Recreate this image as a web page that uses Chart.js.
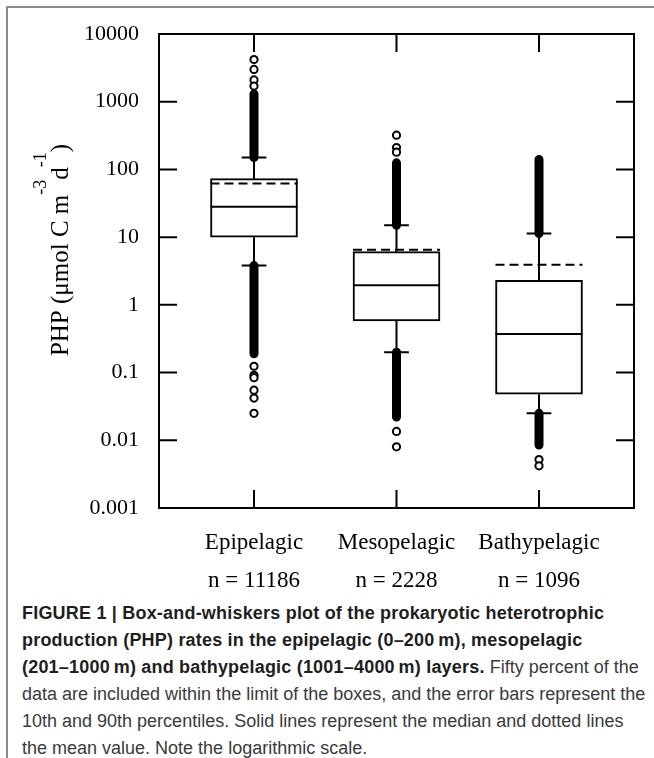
<!DOCTYPE html>
<html>
<head>
<meta charset="utf-8">
<script src="https://cdn.jsdelivr.net/npm/chart.js@4.4.1/dist/chart.umd.min.js"></script>
<style>
  html, body { margin: 0; padding: 0; background: #fff; }
  body { width: 654px; height: 758px; position: relative; overflow: hidden; }
  #frame { position: absolute; left: 6px; top: 6px; width: 660px; height: 780px;
           border-top: 2px solid #8c8c8c; border-left: 2px solid #8c8c8c; }
  #plot { position: absolute; left: 0; top: 0; }
  #caption { position: absolute; left: 22px; top: 600px; width: 630px;
             font-family: "Liberation Sans", Arial, sans-serif; font-size: 18px;
             line-height: 27px; color: #3a3a3a; white-space: nowrap; }
  #caption b { color: #1e1e1e; letter-spacing: 0.2px; }
</style>
</head>
<body>
<div id="frame"></div>
<canvas id="plot" width="654" height="600"></canvas>
<div id="caption">
  <b>FIGURE 1 | Box-and-whiskers plot of the prokaryotic heterotrophic</b><br>
  <b>production (PHP) rates in the epipelagic (0–200&#8201;m), mesopelagic</b><br>
  <b>(201–1000&#8201;m) and bathypelagic (1001–4000&#8201;m) layers.</b> Fifty percent of the<br>
  data are included within the limit of the boxes, and the error bars represent the<br>
  10th and 90th percentiles. Solid lines represent the median and dotted lines<br>
  the mean value. Note the logarithmic scale.
</div>
<script>
// ===== data
const categories = ['Epipelagic', 'Mesopelagic', 'Bathypelagic'];
const sampleSizes = ['n = 11186', 'n = 2228', 'n = 1096'];
const xPos = [1, 2.5, 4];

const p10 = [3.8, 0.2, 0.025];
const q1 = [10, 0.58, 0.048];
const median = [28, 1.95, 0.37];
const q3 = [73, 6.1, 2.3];
const p90 = [150, 15, 11.3];
const mean = [62, 6.5, 3.9];

// runs of overlapping outlier circles (drawn as one solid band)
const denseHigh = [[150, 1300], [15, 125], [11.3, 140]];
const denseLow = [[0.19, 3.8], [0.022, 0.2], [0.0085, 0.025]];

// single outlier circles
const outliersEpi = [4200, 3000, 2100, 1700, 0.124, 0.091, 0.084, 0.055, 0.042, 0.025];
const outliersMeso = [320, 210, 180, 0.0135, 0.008];
const outliersBathy = [0.0052, 0.0042];

const yTicks = [0.001, 0.01, 0.1, 1, 10, 100, 1000, 10000];
const yTickLabels = ['0.001', '0.01', '0.1', '1', '10', '100', '1000', '10000'];

// ===== helpers
const boxHalf = 0.458;   // half box width in x units
const capHalf = 0.13;    // half whisker cap width

function segments(pairs) {
  const out = [];
  pairs.forEach(p => {
    out.push(p[0], p[1], { x: p[1].x, y: null });
  });
  return out;
}

function hLines(vals, half) {
  return segments(xPos.map((x, i) => [{ x: x - half, y: vals[i] }, { x: x + half, y: vals[i] }]));
}

function vLines(from, to) {
  return segments(xPos.map((x, i) => [{ x: x, y: from[i] }, { x: x, y: to[i] }]));
}

const outlierPts = [];
outliersEpi.forEach(v => outlierPts.push({ x: xPos[0], y: v }));
outliersMeso.forEach(v => outlierPts.push({ x: xPos[1], y: v }));
outliersBathy.forEach(v => outlierPts.push({ x: xPos[2], y: v }));

const lineBase = { type: 'line', showLine: true, pointRadius: 0, borderColor: '#000', borderWidth: 2, spanGaps: false, fill: false };

const serif = '"Liberation Serif", "Times New Roman", serif';

// frame, inward ticks and y title
const framePlugin = {
  id: 'framePlugin',
  afterDraw(chart) {
    const ctx = chart.ctx;
    const a = chart.chartArea;
    const ys = chart.scales.y;
    const xs = chart.scales.x;
    const tl = 18;
    ctx.save();
    ctx.strokeStyle = '#000';
    ctx.lineWidth = 2;
    ctx.strokeRect(a.left, a.top, a.right - a.left, a.bottom - a.top);
    ctx.beginPath();
    yTicks.forEach(v => {
      const y = ys.getPixelForValue(v);
      ctx.moveTo(a.left, y); ctx.lineTo(a.left + tl, y);
      ctx.moveTo(a.right, y); ctx.lineTo(a.right - tl, y);
    });
    xPos.forEach(v => {
      const x = xs.getPixelForValue(v);
      ctx.moveTo(x, a.top); ctx.lineTo(x, a.top + tl);
      ctx.moveTo(x, a.bottom); ctx.lineTo(x, a.bottom - tl);
    });
    ctx.stroke();

    // y axis title with superscripts
    const parts = [
      { t: 'PHP (\u03bcmol C m', sup: false },
      { t: '-3', sup: true },
      { t: 'd', sup: false },
      { t: '-1', sup: true },
      { t: ')', sup: false }
    ];
    const baseFont = '25px ' + serif;
    const supFont = '18px ' + serif;
    let total = 0;
    parts.forEach(p => {
      ctx.font = p.sup ? supFont : baseFont;
      p.w = ctx.measureText(p.t).width;
      total += p.w;
    });
    ctx.translate(68, 250);
    ctx.rotate(-Math.PI / 2);
    ctx.fillStyle = '#000';
    ctx.textBaseline = 'alphabetic';
    let x = -total / 2;
    parts.forEach(p => {
      ctx.font = p.sup ? supFont : baseFont;
      ctx.fillText(p.t, x, p.sup ? -22 : 0);
      x += p.w;
    });
    ctx.restore();
  }
};

window.onload = function () {
  const ctx = document.getElementById('plot').getContext('2d');

  const data = {
    datasets: [
      {
        type: 'scatter',
        data: outlierPts,
        pointStyle: 'circle',
        pointRadius: 3.6,
        borderWidth: 2,
        borderColor: '#000',
        backgroundColor: '#fff'
      },
      Object.assign({}, lineBase, {
        data: segments(xPos.map((x, i) => [{ x: x, y: denseHigh[i][0] }, { x: x, y: denseHigh[i][1] }])
          .concat(xPos.map((x, i) => [{ x: x, y: denseLow[i][0] }, { x: x, y: denseLow[i][1] }]))),
        borderWidth: 9,
        borderCapStyle: 'round'
      }),
      Object.assign({}, lineBase, { data: hLines(p90, capHalf).concat(hLines(p10, capHalf)) }),
      Object.assign({}, lineBase, { data: vLines(q3, p90).concat(vLines(q1, p10)) }),
      Object.assign({}, lineBase, { data: hLines(mean, boxHalf), borderDash: [9, 5] }),
      Object.assign({}, lineBase, { data: hLines(median, boxHalf) }),
      {
        type: 'bar',
        data: xPos.map((x, i) => ({ x: x, y: [q1[i], q3[i]] })),
        barThickness: 87,
        borderWidth: 2,
        borderColor: '#000',
        backgroundColor: '#fff',
        borderSkipped: false
      }
    ]
  };

  const config = {
    type: 'scatter',
    data: data,
    plugins: [framePlugin],
    options: {
      responsive: false,
      animation: false,
      layout: { padding: { top: 34, right: 20, left: 0, bottom: 0 } },
      plugins: { legend: { display: false }, tooltip: { enabled: false } },
      scales: {
        x: {
          type: 'linear',
          min: 0,
          max: 5,
          offset: false,
          grid: { display: false },
          border: { display: false },
          afterBuildTicks: function (scale) {
            scale.ticks = xPos.map(v => ({ value: v }));
          },
          afterFit: function (scale) { scale.height = 92; },
          ticks: {
            autoSkip: false,
            maxRotation: 0,
            padding: 8,
            color: '#000',
            font: { family: serif, size: 23, lineHeight: 1.65 },
            callback: function (value, index) {
              return [categories[index], sampleSizes[index]];
            }
          }
        },
        y: {
          type: 'logarithmic',
          min: 0.001,
          max: 10000,
          grid: { display: false },
          border: { display: false },
          afterBuildTicks: function (scale) {
            scale.ticks = yTicks.map(v => ({ value: v }));
          },
          afterFit: function (scale) { scale.width = 159; },
          ticks: {
            padding: 12,
            color: '#000',
            font: { family: serif, size: 22 },
            callback: function (value, index) {
              return yTickLabels[index];
            }
          }
        }
      }
    }
  };

  new Chart(ctx, config);
};
</script>
</body>
</html>
